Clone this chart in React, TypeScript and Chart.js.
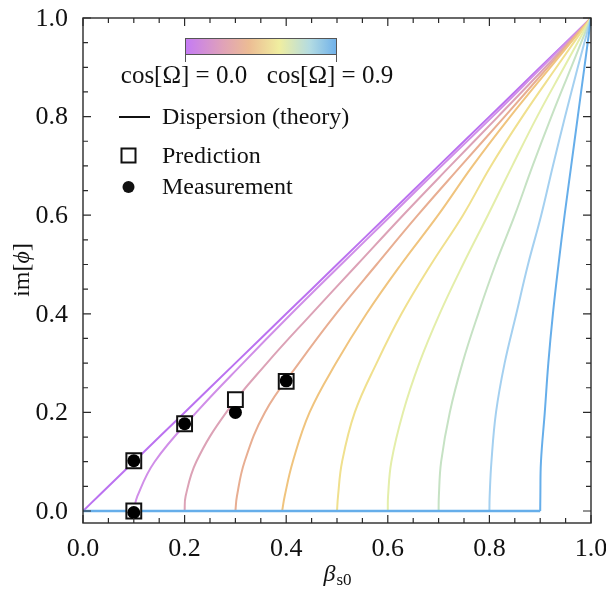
import React, { useEffect, useRef } from "react";
import { Chart, registerables } from "chart.js";

Chart.register(...registerables);

// ---------- data ----------
const COS_VALUES = [0.0, 0.1, 0.2, 0.3, 0.4, 0.5, 0.6, 0.7, 0.8, 0.9];

// im[phi] levels at which the curves were read
const Y_LEVELS = [0, 0.03, 0.1, 0.2, 0.3, 0.4, 0.5, 0.6, 0.7, 0.8, 0.9, 1.0];

// beta_s0 of each dispersion curve at the levels above
const CURVE_X_00 = [0.0, 0.03, 0.1, 0.2, 0.3, 0.4, 0.5, 0.6, 0.7, 0.8, 0.9, 1.0];
const CURVE_X_01 = [0.1, 0.107, 0.141, 0.223, 0.315, 0.41, 0.508, 0.607, 0.706, 0.806, 0.903, 1.0];
const CURVE_X_02 = [0.2, 0.202, 0.223, 0.282, 0.362, 0.45, 0.54, 0.63, 0.723, 0.817, 0.91, 1.0];
const CURVE_X_03 = [0.3, 0.303, 0.318, 0.358, 0.425, 0.498, 0.578, 0.659, 0.744, 0.83, 0.915, 1.0];
const CURVE_X_04 = [0.392, 0.397, 0.413, 0.446, 0.498, 0.558, 0.626, 0.699, 0.767, 0.841, 0.92, 1.0];
const CURVE_X_05 = [0.5, 0.502, 0.51, 0.535, 0.578, 0.627, 0.685, 0.748, 0.803, 0.865, 0.932, 1.0];
const CURVE_X_06 = [0.6, 0.6005, 0.607, 0.63, 0.662, 0.702, 0.748, 0.797, 0.845, 0.894, 0.947, 1.0];
const CURVE_X_07 = [0.7, 0.7005, 0.705, 0.722, 0.747, 0.778, 0.812, 0.85, 0.885, 0.922, 0.961, 1.0];
const CURVE_X_08 = [0.8, 0.8005, 0.804, 0.813, 0.83, 0.853, 0.876, 0.902, 0.925, 0.949, 0.974, 1.0];
const CURVE_X_09 = [0.9, 0.9003, 0.9015, 0.909, 0.916, 0.925, 0.936, 0.948, 0.961, 0.974, 0.987, 1.0];

const CURVES_X = [
  CURVE_X_00, CURVE_X_01, CURVE_X_02, CURVE_X_03, CURVE_X_04,
  CURVE_X_05, CURVE_X_06, CURVE_X_07, CURVE_X_08, CURVE_X_09,
];

// flat part (im[phi] = 0) below the threshold, topped by the cos = 0.9 curve
const BASELINE_X = [0.0, 0.9];
const BASELINE_Y = [0.0, 0.0];

const CURVE_COLORS = [
  "#bb72f0", "#d08ee8", "#dca2b6", "#e8ae92", "#f0c47e",
  "#f0e08e", "#e4eeaa", "#c6e2c4", "#a4d0f0", "#66aeea",
];

const PRED_X = [0.1, 0.1, 0.2, 0.3, 0.4];
const PRED_Y = [0.102, 0.0, 0.177, 0.226, 0.263];
const MEAS_X = [0.1, 0.1, 0.2, 0.3, 0.4];
const MEAS_Y = [0.102, -0.003, 0.177, 0.2, 0.264];

const X_TICKS = [0.0, 0.2, 0.4, 0.6, 0.8, 1.0];
const Y_TICKS = [0.0, 0.2, 0.4, 0.6, 0.8, 1.0];
const MINOR_STEP = 0.05;

const SERIF = "'Liberation Serif', 'Times New Roman', serif";

const framePlugin = {
  id: "frameTicks",
  afterDatasetsDraw(chart: any) {
    const { ctx, chartArea, scales } = chart;
    const { left, right, top, bottom } = chartArea;
    const xs = scales.x;
    const ys = scales.y;
    ctx.save();
    ctx.strokeStyle = "#2a2a2a";
    ctx.lineWidth = 1.4;
    ctx.strokeRect(left, top, right - left, bottom - top);
    ctx.lineWidth = 1.2;
    ctx.beginPath();
    for (let k = 0; k <= 20; k++) {
      const v = k * MINOR_STEP;
      const major = k % 4 === 0;
      const len = major ? 8 : 5;
      const px = xs.getPixelForValue(v);
      ctx.moveTo(px, bottom);
      ctx.lineTo(px, bottom - len);
      ctx.moveTo(px, top);
      ctx.lineTo(px, top + len);
      const py = ys.getPixelForValue(v);
      ctx.moveTo(left, py);
      ctx.lineTo(left + len, py);
      ctx.moveTo(right, py);
      ctx.lineTo(right - len, py);
    }
    ctx.stroke();

    // tick labels
    ctx.fillStyle = "#111";
    ctx.font = `26px ${SERIF}`;
    ctx.textBaseline = "middle";
    ctx.textAlign = "center";
    X_TICKS.forEach((v) => {
      ctx.fillText(v.toFixed(1), xs.getPixelForValue(v), bottom + 26);
    });
    ctx.textAlign = "right";
    Y_TICKS.forEach((v) => {
      ctx.fillText(v.toFixed(1), left - 15, ys.getPixelForValue(v) + 1);
    });
    ctx.restore();
  },
  afterDraw(chart: any) {
    const { ctx } = chart;
    ctx.save();
    ctx.fillStyle = "#111";
    ctx.textBaseline = "middle";

    // colour bar
    const bx0 = 185, bx1 = 337, by0 = 38, by1 = 55;
    const grad = ctx.createLinearGradient(bx0, 0, bx1, 0);
    grad.addColorStop(0, "#c47af6");
    grad.addColorStop(0.25, "#e0a2b8");
    grad.addColorStop(0.42, "#ecbc94");
    grad.addColorStop(0.62, "#f0eea0");
    grad.addColorStop(0.82, "#b4dce2");
    grad.addColorStop(1, "#6eb0ea");
    ctx.fillStyle = grad;
    ctx.fillRect(bx0, by0, bx1 - bx0, by1 - by0);
    ctx.strokeStyle = "#555";
    ctx.lineWidth = 1;
    ctx.strokeRect(bx0 + 0.5, by0 + 0.5, bx1 - bx0 - 1, by1 - by0 - 1);
    ctx.beginPath();
    ctx.moveTo(bx0 + 0.5, by1);
    ctx.lineTo(bx0 + 0.5, by1 + 7);
    ctx.moveTo(bx1 - 0.5, by1);
    ctx.lineTo(bx1 - 0.5, by1 + 7);
    ctx.stroke();

    ctx.fillStyle = "#111";
    ctx.font = `25px ${SERIF}`;
    ctx.textAlign = "center";
    ctx.fillText(`cos[Ω] = ${COS_VALUES[0].toFixed(1)}`, 184, 76);
    ctx.fillText(`cos[Ω] = ${COS_VALUES[9].toFixed(1)}`, 330, 76);

    // legend entries
    ctx.textAlign = "left";
    ctx.font = `24px ${SERIF}`;
    ctx.strokeStyle = "#111";
    ctx.lineWidth = 2;
    ctx.beginPath();
    ctx.moveTo(119, 117);
    ctx.lineTo(150, 117);
    ctx.stroke();
    ctx.fillText("Dispersion (theory)", 162, 118);

    ctx.lineWidth = 2;
    ctx.strokeRect(121.5, 148.5, 14, 14);
    ctx.fillText("Prediction", 162, 157);

    ctx.beginPath();
    ctx.arc(128.5, 187, 6, 0, Math.PI * 2);
    ctx.fill();
    ctx.fillText("Measurement", 162, 188);

    // y axis title  im[ϕ]
    ctx.save();
    ctx.translate(23, 270);
    ctx.rotate(-Math.PI / 2);
    ctx.font = `24px ${SERIF}`;
    const a = "im[";
    const b = "ϕ";
    const c = "]";
    const wa = ctx.measureText(a).width;
    ctx.font = `italic 24px ${SERIF}`;
    const wb = ctx.measureText(b).width;
    ctx.font = `24px ${SERIF}`;
    const wc = ctx.measureText(c).width;
    const sx = -(wa + wb + wc) / 2;
    ctx.textAlign = "left";
    ctx.fillText(a, sx, 0);
    ctx.font = `italic 24px ${SERIF}`;
    ctx.fillText(b, sx + wa, 0);
    ctx.font = `24px ${SERIF}`;
    ctx.fillText(c, sx + wa + wb, 0);
    ctx.restore();

    // x axis title  β_s0
    ctx.font = `italic 24px ${SERIF}`;
    const wBeta = ctx.measureText("β").width;
    ctx.font = `17px ${SERIF}`;
    const wSub = ctx.measureText("s0").width;
    const tx = 337 - (wBeta + wSub) / 2;
    ctx.textAlign = "left";
    ctx.font = `italic 24px ${SERIF}`;
    ctx.fillText("β", tx, 575);
    ctx.font = `17px ${SERIF}`;
    ctx.fillText("s0", tx + wBeta + 1, 581);

    ctx.restore();
  },
};

export default function App() {
  const canvasRef = useRef<HTMLCanvasElement | null>(null);

  useEffect(() => {
    const canvas = canvasRef.current;
    if (!canvas) return;

    const curveSets = CURVES_X.map((xs, i) => ({
      type: "line" as const,
      showLine: true,
      label: `cos[Ω] = ${COS_VALUES[i].toFixed(1)}`,
      data: Y_LEVELS.map((yv, j) => ({ x: xs[j], y: yv })),
      borderColor: CURVE_COLORS[i],
      backgroundColor: CURVE_COLORS[i],
      borderWidth: 2,
      pointRadius: 0,
      tension: 0.4,
      fill: false,
      order: 20 - i,
    }));

    const chart = new Chart(canvas, {
      type: "scatter",
      data: {
        datasets: [
          ...curveSets,
          {
            type: "line",
            showLine: true,
            label: "baseline",
            data: BASELINE_X.map((x, i) => ({ x, y: BASELINE_Y[i] })),
            borderColor: CURVE_COLORS[9],
            borderWidth: 2.4,
            pointRadius: 0,
            fill: false,
            order: 5,
          },
          {
            label: "Prediction",
            data: PRED_X.map((x, i) => ({ x, y: PRED_Y[i] })),
            pointStyle: "rect",
            pointRadius: 10.5,
            pointBorderWidth: 2,
            pointBorderColor: "#111",
            pointBackgroundColor: "#ffffff",
            showLine: false,
            order: 2,
          },
          {
            label: "Measurement",
            data: MEAS_X.map((x, i) => ({ x, y: MEAS_Y[i] })),
            pointStyle: "circle",
            pointRadius: 6.5,
            pointBorderWidth: 0,
            pointBackgroundColor: "#000",
            showLine: false,
            order: 1,
          },
        ] as any,
      },
      options: {
        animation: false,
        responsive: false,
        devicePixelRatio: 1,
        layout: { padding: { top: 18, right: 15, left: 0, bottom: 0 } },
        plugins: { legend: { display: false }, tooltip: { enabled: false } },
        scales: {
          x: {
            type: "linear",
            min: 0,
            max: 1,
            grid: { display: false },
            border: { display: false },
            afterFit: (s: any) => {
              s.height = 66;
            },
            ticks: { display: false },
          },
          y: {
            type: "linear",
            min: -0.0243,
            max: 1,
            grid: { display: false },
            border: { display: false },
            afterFit: (s: any) => {
              s.width = 83;
            },
            ticks: { display: false },
          },
        },
      } as any,
      plugins: [framePlugin],
    });

    return () => chart.destroy();
  }, []);

  return (
    <div style={{ position: "fixed", left: 0, top: 0, width: 606, height: 589, background: "#fff" }}>
      <canvas ref={canvasRef} width={606} height={589} style={{ display: "block" }} />
    </div>
  );
}
